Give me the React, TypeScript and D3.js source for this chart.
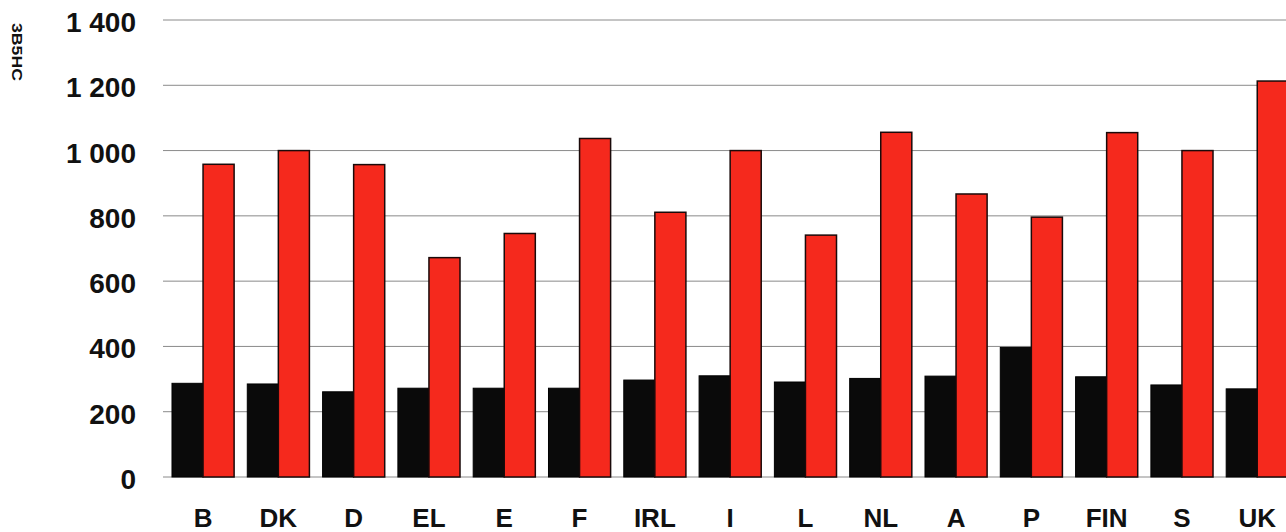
import * as d3 from 'd3';
import React from 'react';

// countries along the x axis
const countries = ['B', 'DK', 'D', 'EL', 'E', 'F', 'IRL', 'I', 'L', 'NL', 'A', 'P', 'FIN', 'S', 'UK'];
// first (black) series
const seriesBlack = [287, 285, 261, 272, 272, 272, 297, 310, 291, 302, 309, 397, 307, 282, 270];
// second (red) series
const seriesRed = [958, 1000, 957, 672, 746, 1037, 811, 1000, 741, 1056, 867, 796, 1055, 1000, 1213];
const yTicks = [0, 200, 400, 600, 800, 1000, 1200, 1400];
const sideLabel = '3B5HC';

const W = 1286;
const H = 532;
const FONT = '"Liberation Sans", Arial, sans-serif';

export default function App() {
  const y = d3.scaleLinear().domain([0, 1400]).range([477, 20]);

  const step = 75.3;
  const x0 = 165.4;
  const x = d3
    .scaleBand()
    .domain(countries)
    .range([x0, x0 + step * countries.length])
    .paddingInner(0.175)
    .paddingOuter(0.0875);

  const inner = d3.scaleBand().domain(['black', 'red']).range([0, x.bandwidth()]);

  const fmt = (v: number) => (v >= 1000 ? d3.format(',')(v).replace(',', ' ') : String(v));

  return (
    <svg
      width={W}
      height={H}
      style={{ position: 'absolute', left: 0, top: 0, background: '#ffffff' }}
    >
      {/* gridlines */}
      {yTicks.map(t => (
        <line key={t} x1={163} x2={W} y1={y(t)} y2={y(t)} stroke="#8a8a8a" strokeWidth={1} />
      ))}

      {/* y tick labels */}
      {yTicks.map(t => (
        <text
          key={'l' + t}
          x={136}
          y={y(t) + 12}
          textAnchor="end"
          fontFamily={FONT}
          fontWeight="bold"
          fontSize={28}
          fill="#111"
        >
          {fmt(t)}
        </text>
      ))}

      {/* bars */}
      {countries.map((c, i) => (
        <g key={c} transform={`translate(${x(c)},0)`}>
          <rect
            x={inner('black')}
            y={y(seriesBlack[i])}
            width={inner.bandwidth()}
            height={y(0) - y(seriesBlack[i])}
            fill="#0a0a0a"
            stroke="#000"
            strokeWidth={1}
          />
          <rect
            x={inner('red')}
            y={y(seriesRed[i])}
            width={inner.bandwidth()}
            height={y(0) - y(seriesRed[i])}
            fill="#f5291d"
            stroke="#1a0a0a"
            strokeWidth={1.5}
          />
        </g>
      ))}

      {/* category labels */}
      {countries.map(c => (
        <text
          key={'c' + c}
          x={(x(c) || 0) + x.bandwidth() / 2}
          y={527}
          textAnchor="middle"
          fontFamily={FONT}
          fontWeight="bold"
          fontSize={26}
          fill="#111"
        >
          {c}
        </text>
      ))}

      {/* rotated side label */}
      <text
        transform="translate(12,23) rotate(90)"
        fontFamily={FONT}
        fontWeight="bold"
        fontSize={15}
        textLength={58}
        lengthAdjust="spacingAndGlyphs"
        fill="#111"
      >
        {sideLabel}
      </text>
    </svg>
  );
}
